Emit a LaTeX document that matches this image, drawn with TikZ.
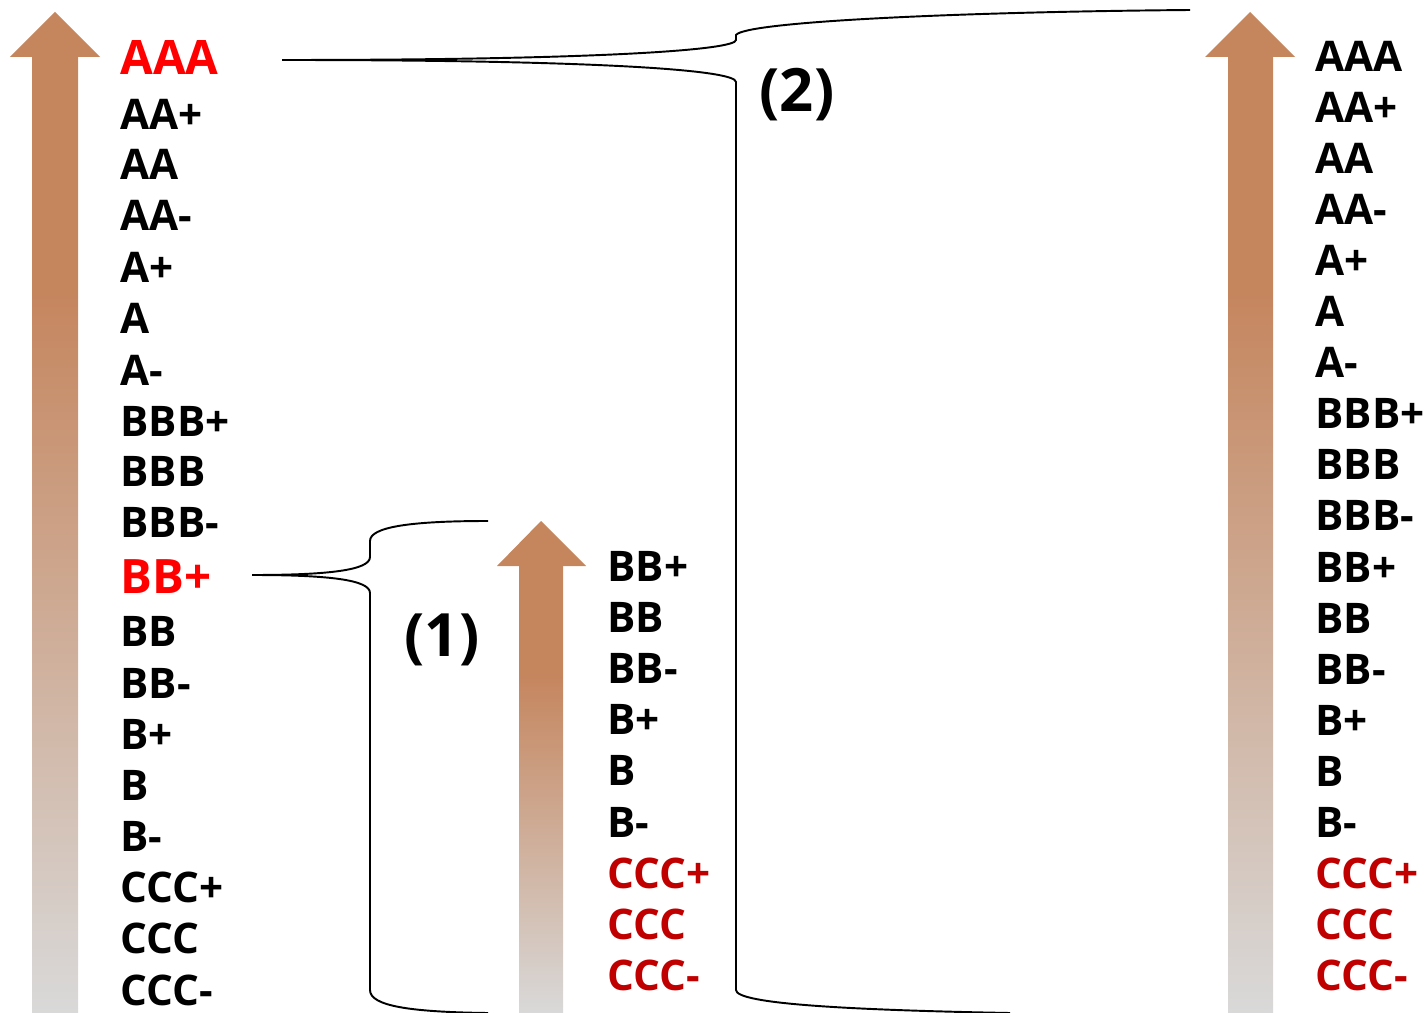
\documentclass[tikz,border=0pt]{standalone}
\usepackage{fontspec}
\setsansfont{Open Sans}
\definecolor{arroworange}{HTML}{C5855D}
\definecolor{fadegray}{HTML}{D9D9D9}
\definecolor{darkred}{HTML}{C00000}
\pgfdeclareverticalshading{rankfade}{100bp}{color(0bp)=(fadegray); color(25bp)=(fadegray); color(63bp)=(arroworange); color(100bp)=(arroworange)}
\tikzset{
  rank/.style={anchor=west, inner sep=0pt, font=\sffamily\bfseries\fontsize{24}{28}\selectfont},
  rankhi/.style={rank, text=red, font=\sffamily\bfseries\fontsize{27}{32}\selectfont},
  rankccc/.style={rank, text=darkred},
  brace/.style={line width=1.1pt},
  num/.style={inner sep=0pt, font=\sffamily\bfseries\fontsize{34}{40}\selectfont}
}
\begin{document}
\begin{tikzpicture}[x=0.02cm, y=-0.02cm]
    \useasboundingbox (0,0) rectangle (1426,1013);

    % arrows
    \shade[shading=rankfade] (32,56) rectangle (78,1013);
    \fill[arroworange] (10,57) -- (55,12) -- (100,57) -- cycle;

    \shade[shading=rankfade] (519,565) rectangle (563,1013);
    \fill[arroworange] (497,566) -- (541,521) -- (586,566) -- cycle;

    \shade[shading=rankfade] (1228,56) rectangle (1273,1013);
    \fill[arroworange] (1205,57) -- (1250,12) -- (1295,57) -- cycle;

    % rating scales
    \foreach \lbl/\sty/\y [count=\i from 0] in {AAA/rankhi/58, AA+/rank/114, AA/rank/164, AA-/rank/215, A+/rank/267, A/rank/318, A-/rank/370, BBB+/rank/421, BBB/rank/471, BBB-/rank/522, BB+/rankhi/577, BB/rank/631, BB-/rank/683, B+/rank/734, B/rank/785, B-/rank/836, CCC+/rank/887, CCC/rank/938, CCC-/rank/990}
        \node[\sty] (left\i) at (120,\y) {\lbl};

    \foreach \lbl/\sty [count=\i from 0] in {BB+/rank, BB/rank, BB-/rank, B+/rank, B/rank, B-/rank, CCC+/rankccc, CCC/rankccc, CCC-/rankccc}
        \node[\sty] (mid\i) at (607,566+51.2*\i) {\lbl};

    \foreach \lbl/\sty [count=\i from 0] in {AAA/rank, AA+/rank, AA/rank, AA-/rank, A+/rank, A/rank, A-/rank, BBB+/rank, BBB/rank, BBB-/rank, BB+/rank, BB/rank, BB-/rank, B+/rank, B/rank, B-/rank, CCC+/rankccc, CCC/rankccc, CCC-/rankccc}
        \node[\sty] (right\i) at (1315,56+51.1*\i) {\lbl};

    % braces
    \coordinate (tipone) at (252,575);
    \draw[brace] (tipone) .. controls (330,575) and (370,570) .. (370,557) -- (370,541) .. controls (370,527) and (410,521) .. (488,521);
    \draw[brace] (tipone) .. controls (330,575) and (370,580) .. (370,593) -- (370,990) .. controls (370,1006) and (410,1012) .. (488,1013);
    \node[num] (one) at (442,640) {(1)};

    \coordinate (tiptwo) at (282,60);
    \draw[brace] (tiptwo) .. controls (600,60) and (736,50) .. (736,40) -- (736,35) .. controls (745,22) and (950,12) .. (1190,10);
    \draw[brace] (tiptwo) .. controls (600,60) and (736,70) .. (736,82) -- (736,990) .. controls (736,1004) and (850,1010) .. (1010,1013);
    \node[num] (two) at (797,95) {(2)};
\end{tikzpicture}
\end{document}
